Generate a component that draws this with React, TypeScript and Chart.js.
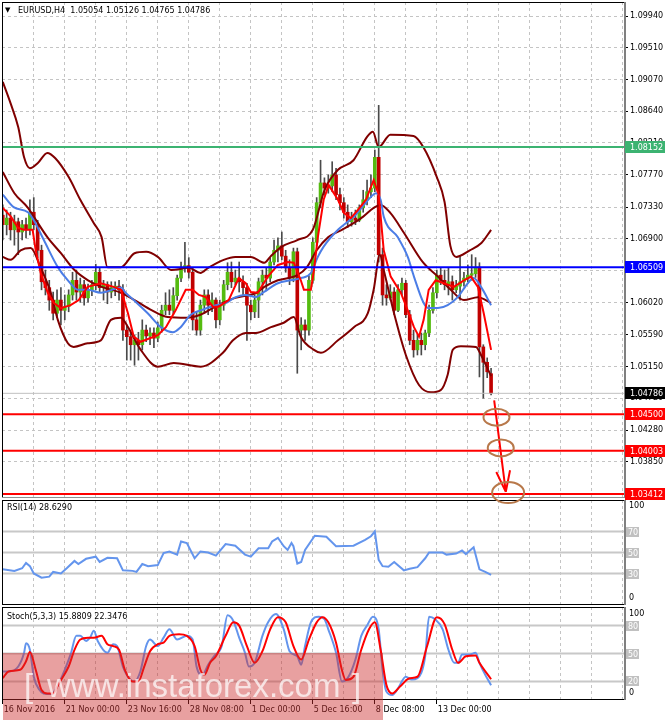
import React, { useEffect, useRef } from "react";
import { Chart, registerables } from "chart.js";

Chart.register(...registerables);
Chart.defaults.font.family = '"DejaVu Sans", sans-serif';

// ---------------- DATA ----------------
// EURUSD H4 candles (index 0 = 16 Nov 2016 08:00)
const barOpen = [
  1.0722, 1.0709, 1.0718, 1.0702, 1.0713, 1.0699, 1.0709, 1.0702, 1.0726, 1.0709,
  1.0674, 1.0631, 1.0623, 1.0606, 1.0588, 1.0606, 1.0592, 1.0597, 1.0613, 1.0633,
  1.0617, 1.0627, 1.0609, 1.0620, 1.0627, 1.0644, 1.0623, 1.0627, 1.0617, 1.0623,
  1.0625, 1.0620, 1.0565, 1.0556, 1.0545, 1.0551, 1.0545, 1.0565, 1.0557, 1.0561,
  1.0554, 1.0568, 1.0592, 1.0599, 1.0592, 1.0612, 1.0636, 1.0650, 1.0653, 1.0644,
  1.0579, 1.0565, 1.0599, 1.0613, 1.0599, 1.0606, 1.0579, 1.0599, 1.0627, 1.0644,
  1.0631, 1.0636, 1.0631, 1.0623, 1.0599, 1.0590, 1.0606, 1.0631, 1.0640, 1.0636,
  1.0658, 1.0674, 1.0680, 1.0666, 1.0650, 1.0636, 1.0672, 1.0565, 1.0572, 1.0565,
  1.0633, 1.0685, 1.0739, 1.0766, 1.0759, 1.0762, 1.0777, 1.0750, 1.0739, 1.0726,
  1.0713, 1.0718, 1.0715, 1.0732, 1.0743, 1.0754, 1.0759, 1.0801, 1.0668, 1.0613,
  1.0609, 1.0617, 1.0592, 1.0620, 1.0629, 1.0586, 1.0551, 1.0538, 1.0551, 1.0545,
  1.0561, 1.0592, 1.0616, 1.0640, 1.0633, 1.0627, 1.0631, 1.0620, 1.0625, 1.0631,
  1.0636, 1.0640, 1.0642, 1.0651, 1.0542, 1.0521, 1.05054,
];
const barHigh = [
  1.0736, 1.0729, 1.0726, 1.0722, 1.0718, 1.0715, 1.0718, 1.0743, 1.0746, 1.0715,
  1.0681, 1.0647, 1.0633, 1.0617, 1.0620, 1.0623, 1.0613, 1.0620, 1.0644, 1.0647,
  1.0636, 1.0633, 1.0628, 1.0633, 1.0655, 1.0650, 1.0633, 1.0631, 1.0631, 1.0631,
  1.0633, 1.0627, 1.0572, 1.0562, 1.0558, 1.0562, 1.0579, 1.0572, 1.0568, 1.0568,
  1.0576, 1.0599, 1.0616, 1.0620, 1.0623, 1.0640, 1.0658, 1.0685, 1.0664, 1.0650,
  1.0590, 1.0606, 1.0620, 1.0620, 1.0616, 1.0609, 1.0606, 1.0633, 1.0657, 1.0658,
  1.0647, 1.0658, 1.0639, 1.0629, 1.0606, 1.0613, 1.0636, 1.0647, 1.0650, 1.0664,
  1.0688, 1.0691, 1.0699, 1.0674, 1.0661, 1.0677, 1.0677, 1.0582, 1.0579, 1.0639,
  1.0691, 1.0746, 1.0797, 1.0773, 1.0777, 1.0795, 1.0786, 1.0759, 1.0746, 1.0736,
  1.0726, 1.0729, 1.0736, 1.0756, 1.0770, 1.0777, 1.0811, 1.0872, 1.0677, 1.0627,
  1.0627, 1.0623, 1.0627, 1.0636, 1.0633, 1.0592, 1.0565, 1.0558, 1.0561, 1.0565,
  1.0599, 1.0623, 1.0647, 1.0650, 1.0647, 1.0650, 1.0639, 1.0633, 1.0666, 1.0644,
  1.0654, 1.0668, 1.0664, 1.0657, 1.0545, 1.0527, 1.05126,
];
const barLow = [
  1.0688, 1.0695, 1.0688, 1.0681, 1.0668, 1.0688, 1.0691, 1.0695, 1.0702, 1.0664,
  1.0620, 1.0613, 1.0592, 1.0579, 1.0582, 1.0572, 1.0579, 1.0590, 1.0606, 1.0606,
  1.0603, 1.0599, 1.0603, 1.0612, 1.0620, 1.0617, 1.0606, 1.0601, 1.0609, 1.0612,
  1.0606, 1.0551, 1.0524, 1.0524, 1.0517, 1.0524, 1.0538, 1.0549, 1.0545, 1.0541,
  1.0549, 1.0562, 1.0586, 1.0586, 1.0586, 1.0606, 1.0631, 1.0644, 1.0636, 1.0565,
  1.0558, 1.0558, 1.0590, 1.0586, 1.0590, 1.0568, 1.0572, 1.0592, 1.0620, 1.0623,
  1.0627, 1.0617, 1.0613, 1.0551, 1.0579, 1.0582, 1.0582, 1.0613, 1.0620, 1.0631,
  1.0654, 1.0658, 1.0661, 1.0644, 1.0627, 1.0631, 1.0506, 1.0538, 1.0551, 1.0558,
  1.0629, 1.0680, 1.0732, 1.0750, 1.0752, 1.0754, 1.0743, 1.0729, 1.0718, 1.0705,
  1.0707, 1.0709, 1.0713, 1.0726, 1.0736, 1.0746, 1.0754, 1.0658, 1.0599, 1.0599,
  1.0606, 1.0586, 1.0590, 1.0613, 1.0582, 1.0545, 1.0528, 1.0531, 1.0531, 1.0538,
  1.0556, 1.0588, 1.0609, 1.0627, 1.0620, 1.0613, 1.0606, 1.0616, 1.0606, 1.0625,
  1.0631, 1.0633, 1.0637, 1.0501, 1.0472, 1.0500, 1.04765,
];
const barClose = [
  1.0709, 1.0718, 1.0702, 1.0713, 1.0699, 1.0709, 1.0702, 1.0726, 1.0709, 1.0674,
  1.0631, 1.0623, 1.0606, 1.0588, 1.0606, 1.0592, 1.0597, 1.0613, 1.0633, 1.0617,
  1.0627, 1.0609, 1.0620, 1.0627, 1.0644, 1.0623, 1.0627, 1.0617, 1.0623, 1.0625,
  1.0620, 1.0565, 1.0556, 1.0545, 1.0551, 1.0545, 1.0565, 1.0557, 1.0561, 1.0554,
  1.0568, 1.0592, 1.0599, 1.0592, 1.0612, 1.0636, 1.0650, 1.0653, 1.0644, 1.0579,
  1.0565, 1.0599, 1.0613, 1.0599, 1.0606, 1.0579, 1.0599, 1.0627, 1.0644, 1.0631,
  1.0636, 1.0631, 1.0623, 1.0599, 1.0590, 1.0606, 1.0631, 1.0640, 1.0636, 1.0658,
  1.0674, 1.0680, 1.0666, 1.0650, 1.0636, 1.0672, 1.0565, 1.0572, 1.0565, 1.0633,
  1.0685, 1.0739, 1.0766, 1.0759, 1.0762, 1.0777, 1.0750, 1.0739, 1.0726, 1.0713,
  1.0718, 1.0715, 1.0732, 1.0743, 1.0754, 1.0759, 1.0801, 1.0668, 1.0613, 1.0609,
  1.0617, 1.0592, 1.0620, 1.0629, 1.0586, 1.0551, 1.0538, 1.0551, 1.0545, 1.0561,
  1.0592, 1.0616, 1.0640, 1.0633, 1.0627, 1.0631, 1.0620, 1.0625, 1.0631, 1.0636,
  1.0640, 1.0642, 1.0651, 1.0542, 1.0521, 1.0508, 1.04786,
];

const dateLabels = [
  "16 Nov 2016", "21 Nov 00:00", "23 Nov 16:00", "28 Nov 08:00",
  "1 Dec 00:00", "5 Dec 16:00", "8 Dec 08:00", "13 Dec 00:00",
];
const barsPerDateLabel = 16;
const barsPerGridLine = 8;
const slotCount = 160;

const priceTicks = [
  1.0994, 1.0951, 1.0907, 1.0864, 1.0821, 1.0777, 1.0733, 1.069,
  1.0646, 1.0602, 1.0559, 1.0515, 1.0472, 1.0428, 1.0385,
];

// Bollinger bands [bar index, price]
const bbUpper = [
  [0, 1.0904], [2, 1.0875], [4, 1.0842], [5.5, 1.0801], [7, 1.0786], [9, 1.0793], [11.5, 1.0807],
  [13.5, 1.08], [17, 1.0774], [20, 1.0743], [23.5, 1.0711], [25.5, 1.0692], [27, 1.0651], [30.5, 1.0651],
  [34, 1.067], [37, 1.0672], [40, 1.0665], [43.5, 1.0647], [48, 1.065], [51, 1.0643], [53, 1.065],
  [57, 1.0661], [60, 1.0665], [64, 1.0665], [67.5, 1.0657], [69, 1.0665], [72, 1.0679], [76, 1.0688],
  [80, 1.0702], [83, 1.0756], [86.5, 1.0784], [90.5, 1.0797], [94, 1.0829], [95.5, 1.0836], [97, 1.0815],
  [100, 1.0832], [106, 1.083], [108.5, 1.0815], [112, 1.0774], [114, 1.074], [115.5, 1.068], [117, 1.0665],
  [120.5, 1.0674], [123.5, 1.0684], [126, 1.0702],
];
const bbMiddle = [
  [0, 1.0781], [3, 1.0752], [6.5, 1.0732], [8, 1.072], [11.5, 1.0692], [15, 1.067], [18.5, 1.0647],
  [22, 1.0633], [25.5, 1.0624], [30.5, 1.0616], [34, 1.0606], [38.5, 1.0592], [42.5, 1.0583], [47.5, 1.0582],
  [51, 1.0586], [55.5, 1.0599], [60, 1.0609], [65.5, 1.0616], [67.5, 1.0624], [71, 1.0633], [76, 1.064],
  [78.5, 1.0651], [81, 1.0674], [84, 1.0692], [87.5, 1.0702], [90.5, 1.0711], [93, 1.072], [95.7, 1.0732],
  [97.5, 1.0736], [100, 1.0725], [103.5, 1.0698], [108.5, 1.0657], [112.3, 1.0638], [115.6, 1.062],
  [119, 1.0606], [122.6, 1.061], [126, 1.0602],
];
const bbLower = [
  [0, 1.0665], [2, 1.0661], [4.6, 1.0674], [7.2, 1.0677], [9.8, 1.065], [12.4, 1.0616], [14.2, 1.0579],
  [16.8, 1.0547], [18.3, 1.0542], [21.9, 1.0547], [25.3, 1.0551], [27.9, 1.0579], [30.5, 1.0582],
  [32.3, 1.0569], [35.6, 1.0538], [40, 1.0515], [44.1, 1.052], [51.1, 1.0515], [56.8, 1.0534],
  [59.4, 1.0551], [62.7, 1.0561], [65.3, 1.0561], [69.2, 1.0569], [72.5, 1.0575], [75.1, 1.0583],
  [76.9, 1.0556], [80.3, 1.0538], [82.1, 1.0534], [86.5, 1.0551], [90.6, 1.0569], [94.2, 1.0588],
  [95.7, 1.062], [97.3, 1.0668], [98.3, 1.0647], [101.4, 1.0579], [104, 1.0531], [107.4, 1.049],
  [110.5, 1.048], [113, 1.0483], [114.8, 1.0504], [116.1, 1.0538], [118.2, 1.0543], [122.1, 1.0542],
  [123.4, 1.0531], [126, 1.0502],
];
// Moving averages [bar index, price]
const maSlow = [
  [0, 1.075], [2.8, 1.0733], [6.5, 1.0726], [8, 1.0715], [10.6, 1.0688], [14.2, 1.0651], [16.8, 1.0633],
  [19.4, 1.062], [21.9, 1.062], [25.3, 1.0616], [30.5, 1.0623], [31.7, 1.0616], [33.8, 1.0606],
  [37.4, 1.0588], [40.8, 1.0569], [43.9, 1.0562], [45.9, 1.0569], [48.5, 1.0586], [51.1, 1.0592],
  [55, 1.0599], [57.5, 1.0602], [60.1, 1.061], [62.7, 1.0613], [65.3, 1.061], [67.4, 1.0617],
  [71, 1.0629], [74.3, 1.0633], [76.9, 1.0636], [79.5, 1.0643], [81.3, 1.0665], [82.8, 1.0679],
  [86.5, 1.0702], [89, 1.0713], [90.6, 1.072], [93.2, 1.0736], [95, 1.0747], [96.3, 1.0752],
  [97.5, 1.0743], [98.3, 1.072], [101.9, 1.0692], [104.5, 1.0665], [106.1, 1.0638], [108.6, 1.0602],
  [109.9, 1.0595], [112.3, 1.0595], [114.8, 1.0599], [117.4, 1.061], [120, 1.0629], [121.5, 1.0636],
  [123.4, 1.0624], [126, 1.0599],
];
const maFast = [
  [0, 1.0732], [2.1, 1.072], [3.9, 1.0705], [5.4, 1.0702], [7.7, 1.0702], [8.5, 1.0674], [9.8, 1.0643],
  [11.6, 1.0616], [13.2, 1.0602], [15, 1.0595], [17.5, 1.0599], [19.6, 1.0606], [21.9, 1.0624],
  [25.3, 1.0629], [28.6, 1.0624], [30.5, 1.062], [32.3, 1.0588], [33.8, 1.0556], [35.6, 1.0549],
  [40, 1.0558], [42.1, 1.0569], [44.6, 1.0592], [47.2, 1.062], [49, 1.062], [50.6, 1.0613],
  [52.4, 1.061], [54.2, 1.0597], [55.7, 1.0597], [58.3, 1.0606], [60.9, 1.0636], [62.7, 1.0629],
  [64, 1.0617], [65.8, 1.0616], [68.4, 1.0638], [71, 1.0654], [73.5, 1.0658], [75.1, 1.0657],
  [76.9, 1.0633], [77.7, 1.062], [79.5, 1.062], [80.3, 1.0647], [81.3, 1.0692], [82.8, 1.0743],
  [84.1, 1.0763], [86.5, 1.0743], [88, 1.0725], [89.8, 1.0718], [91.6, 1.0729], [93.7, 1.0743],
  [95.7, 1.077], [97, 1.075], [98.3, 1.0674], [100.1, 1.0638], [102.7, 1.0616], [104.5, 1.0592],
  [106.1, 1.0569], [107.4, 1.0556], [108.6, 1.0579], [109.9, 1.062], [111.7, 1.0633], [113.8, 1.0629],
  [116.4, 1.0624], [119, 1.0633], [120.8, 1.0638], [122.6, 1.0624], [124.1, 1.0588], [126, 1.0538],
];

// Horizontal levels
const resistanceLevel = 1.08152;
const pivotLevel = 1.06509;
const targetLevels = [1.045, 1.04003, 1.03412];
const bidPrice = 1.04786;

// Hand-drawn marks: target circles and arrow [bar index, price]
const targetMarks = [[127.4, 1.0446], [128.5, 1.0404], [130.4, 1.0343]];
const arrowPath = [[126.8, 1.0469], [129.8, 1.0344]];

// RSI(14) [bar index, value]
const rsiPoints = [
  [0, 34], [3, 32.5], [5, 35], [6, 40], [7, 37], [8, 30], [10, 26], [12, 27], [13, 31.5], [15, 30],
  [16.5, 35], [18.5, 42], [19.5, 39], [21.5, 44], [24, 46], [25, 41], [27, 45], [29.5, 44.5], [31, 33],
  [33.5, 32.5], [34.5, 31.5], [36, 39], [37.5, 37], [40, 38], [41.5, 49.5], [43, 51], [45, 48],
  [46, 60.5], [47.5, 59], [49.5, 44.5], [51, 51], [53, 50], [55, 47], [57.5, 58], [60, 56.5],
  [62.5, 48], [64, 46], [66, 54], [68.5, 54], [69.5, 60.5], [71, 64], [72.5, 56], [73.5, 52.5],
  [74.5, 59], [75, 56], [76, 39.5], [77, 41], [78, 52.5], [80.5, 66], [83.5, 65], [86, 56],
  [90.5, 56.5], [93.5, 62], [95, 65.5], [96, 70], [97, 43], [98, 37], [99.5, 36.5], [101, 41],
  [103.5, 33], [105, 34.5], [107, 36], [109, 44.5], [110, 50], [113.5, 50], [114.5, 48], [117, 49],
  [118.5, 52], [119.5, 48.5], [121.5, 55], [123, 34], [124.5, 31.5], [126, 28.629],
];
const rsiLevels = [70, 50, 30];

// Stochastic(5,3,3) [bar index, value]
const stochK = [
  [0, 30.7], [1.5, 30.7], [4, 36], [5.5, 50.7], [6, 61], [7, 54], [8, 25], [9.5, 10.7], [10.5, 7],
  [12.5, 6.4], [14, 14], [16, 32.5], [17.5, 49], [19, 69], [20, 69], [21.5, 63.5], [22.5, 67],
  [23.5, 74.4], [24.5, 63.5], [27, 50.7], [28.5, 60], [29.5, 58], [31, 36], [33, 21.6], [34, 20],
  [35.5, 30.7], [37, 58], [38, 65], [40, 58], [41.5, 67], [43, 76], [45, 65], [47.5, 69], [49, 65],
  [50, 36], [51.5, 27], [53, 38], [54.5, 47], [56.5, 58], [58, 91], [59.5, 85], [61, 67], [62.5, 50.7],
  [63.5, 36], [65, 40], [67, 69], [68.5, 84], [70.5, 92.5], [72.5, 76], [74, 52.5], [76, 47], [77, 38],
  [78, 58], [79.5, 83.5], [81.5, 89.6], [83, 87], [84, 76], [86, 50.7], [87.5, 20], [89, 23.5],
  [91, 43.5], [92.5, 69], [94, 80], [95.5, 89.6], [97, 76], [98, 32.5], [99, 9], [100.5, 5.3],
  [102, 12.5], [104, 25], [105.5, 22], [107, 23.5], [109, 47], [110, 89.6], [111.5, 87], [113.5, 76],
  [115, 54], [116.5, 40], [117.5, 40], [118.5, 49], [120.5, 49], [122, 50.7], [123, 40], [124.5, 27],
  [126, 15.8809],
];
const stochD = [
  [0, 23.5], [1.5, 30.7], [4.5, 32.5], [6, 41.6], [7, 51.5], [8.5, 32.5], [10, 10.7], [11.5, 7], [13, 7],
  [14.5, 18], [17, 36], [18.5, 54], [20, 65], [22, 67], [23.5, 67], [25.5, 69], [27, 60], [28.5, 58],
  [30, 54], [31.5, 32.5], [33.5, 20], [35, 20], [36.5, 36], [38, 52.5], [40, 60], [41.5, 61.6], [43, 69],
  [45.5, 70.7], [47.5, 69], [49.5, 58], [51, 32.5], [52, 27], [53.5, 40], [55, 47], [57.5, 69],
  [59.5, 83.5], [61, 80], [63, 58], [65, 40], [67, 52.5], [69, 76], [71, 89], [73, 83.5], [75, 58],
  [77, 43.5], [79, 65], [81, 83.5], [82.5, 89], [84, 83.5], [86, 61.6], [87.5, 32.5], [88.5, 21.6],
  [90.5, 25], [92.5, 54], [94.5, 76], [96, 83.5], [97.5, 54], [99, 16], [100.5, 7], [102.5, 14.4],
  [105, 23.5], [107, 25], [109.5, 58], [112, 89], [114, 81.6], [116, 54], [117.5, 40], [119.5, 47],
  [122, 47.8], [123, 40], [126, 22.3476],
];
const stochLevels = [80, 50, 20];

// ---------------- STYLE / LAYOUT ----------------
const W = 665;
const AXIS_W = 41;
const X_MIN = -0.2;
const X_MAX = 160.3;
const PRICE_MIN = 1.03356;
const PRICE_MAX = 1.10132;
const FONT = '"DejaVu Sans", sans-serif';
const GRID = "#c4c4c4";
const BULL = "#55bb10";
const BEAR = "#c00000";
const WICK = "#4a4a4a";
const BAND = "#800000";
const MA_BLUE = "rgb(75,125,230)";
const IND_BLUE = "#6495ed";
const RED = "#ff0000";
const CIRCLE = "#b8784a";
const ellipseSizes = [[13, 8.5], [13, 8.5], [16, 10.5]];

const gridTicks: number[] = [];
for (let v = 0; v <= slotCount; v += barsPerGridLine) gridTicks.push(v);

const dateLabelFor = (v: number) => {
  if (v % barsPerDateLabel !== 0) return "";
  const k = v / barsPerDateLabel;
  return k < dateLabels.length ? dateLabels[k] : "";
};

const toPts = (arr: number[][]) => arr.map(([x, y]) => ({ x, y }));

function lineSet(arr: number[][], color: string, width: number, order: number, smooth: boolean) {
  return {
    type: "line",
    data: toPts(arr),
    borderColor: color,
    borderWidth: width,
    pointRadius: 0,
    fill: false,
    tension: 0,
    cubicInterpolationMode: smooth ? "monotone" : "default",
    order,
  };
}

function xAxis(showLabels: boolean, height: number) {
  return {
    type: "linear",
    min: X_MIN,
    max: X_MAX,
    offset: false,
    grid: {
      display: true,
      color: GRID,
      lineWidth: 1,
      offset: false,
      drawTicks: showLabels,
      tickLength: 4,
      tickBorderDash: [],
      tickColor: (c: any) =>
        showLabels && c.tick && dateLabelFor(c.tick.value) !== "" ? "#000" : "rgba(0,0,0,0)",
    },
    border: { display: false, dash: [3, 3] },
    ticks: {
      display: showLabels,
      autoSkip: false,
      maxRotation: 0,
      minRotation: 0,
      align: "start",
      padding: 1,
      labelOffset: 1,
      color: "#000",
      font: { family: FONT, size: 8 },
      callback: (v: any) => dateLabelFor(Number(v)),
    },
    afterBuildTicks: (s: any) => {
      s.ticks = gridTicks.map((v) => ({ value: v }));
    },
    afterFit: (s: any) => {
      s.height = height;
      s.paddingLeft = 0;
      s.paddingRight = 0;
    },
  };
}

const indicatorY = {
  position: "right",
  min: 0,
  max: 100,
  beginAtZero: false,
  grid: { display: false },
  border: { display: false },
  ticks: { display: false },
  afterFit: (s: any) => {
    s.width = AXIS_W;
    s.paddingTop = 0;
    s.paddingBottom = 0;
  },
};

function drawFrame(chart: any, bottomColor: string) {
  const { ctx } = chart;
  const { left, right, top, bottom } = chart.chartArea;
  ctx.save();
  ctx.lineWidth = 1;
  ctx.strokeStyle = "#000";
  ctx.beginPath();
  ctx.moveTo(left + 0.5, top + 0.5);
  ctx.lineTo(right, top + 0.5);
  ctx.moveTo(left + 0.5, top);
  ctx.lineTo(left + 0.5, bottom);
  ctx.stroke();
  ctx.strokeStyle = bottomColor;
  ctx.beginPath();
  ctx.moveTo(left, bottom - 0.5);
  ctx.lineTo(right, bottom - 0.5);
  ctx.stroke();
  ctx.strokeStyle = "#808080";
  ctx.lineWidth = 2;
  ctx.beginPath();
  ctx.moveTo(right + 1, top);
  ctx.lineTo(right + 1, bottom);
  ctx.stroke();
  ctx.restore();
}

function hLine(chart: any, value: number, color: string, width: number) {
  const { ctx } = chart;
  const { left, right } = chart.chartArea;
  const y = chart.scales.y.getPixelForValue(value);
  ctx.save();
  ctx.strokeStyle = color;
  ctx.lineWidth = width;
  ctx.beginPath();
  ctx.moveTo(left, y);
  ctx.lineTo(right, y);
  ctx.stroke();
  ctx.restore();
}

function priceBox(chart: any, value: number, bg: string) {
  const { ctx } = chart;
  const x0 = chart.chartArea.right + 1;
  const y = Math.round(chart.scales.y.getPixelForValue(value));
  ctx.save();
  ctx.fillStyle = bg;
  ctx.fillRect(x0, y - 6, W - x0, 12);
  ctx.fillStyle = "#fff";
  ctx.font = `8px ${FONT}`;
  ctx.textBaseline = "middle";
  ctx.textAlign = "left";
  ctx.fillText(value.toFixed(5), x0 + 5, y + 0.5);
  ctx.restore();
}

function indicatorLabels(chart: any, levels: number[], topOff: number, botOff: number) {
  const { ctx } = chart;
  const ys = chart.scales.y;
  const x0 = chart.chartArea.right + 2;
  ctx.save();
  ctx.font = `8px ${FONT}`;
  ctx.textBaseline = "middle";
  ctx.textAlign = "left";
  ctx.fillStyle = "#000";
  ctx.fillText("100", x0 + 3, ys.getPixelForValue(100) + topOff);
  ctx.fillText("0", x0 + 3, ys.getPixelForValue(0) - botOff);
  levels.forEach((lv) => {
    const y = Math.round(ys.getPixelForValue(lv));
    ctx.fillStyle = "#c0c0c0";
    ctx.fillRect(x0, y - 5, 13, 10);
    ctx.fillStyle = "#fff";
    ctx.fillText(String(lv), x0 + 2, y + 0.5);
  });
  ctx.restore();
}

function levelLines(chart: any, levels: number[]) {
  levels.forEach((lv) => hLine(chart, lv, "#c8c8c8", 2));
}

function panelTitle(chart: any, text: string, y: number) {
  const { ctx } = chart;
  ctx.save();
  ctx.font = `8px ${FONT}`;
  ctx.fillStyle = "#000";
  ctx.textBaseline = "middle";
  ctx.textAlign = "left";
  ctx.fillText(text, 7, y);
  ctx.restore();
}

function mainConfig(): any {
  const n = barClose.length;
  const bodies = barOpen.map((o, i) => ({ x: i, y: [o, barClose[i]] }));
  const wicks = barLow.map((l, i) => ({ x: i, y: [l, barHigh[i]] }));
  const bodyColors = barOpen.map((o, i) => (barClose[i] >= o ? BULL : BEAR));
  const header = `EURUSD,H4  ${barOpen[n - 1].toFixed(5)} ${barHigh[n - 1].toFixed(5)} ${barLow[n - 1].toFixed(5)} ${barClose[n - 1].toFixed(5)}`;

  const deco = {
    id: "mainDeco",
    afterDatasetsDraw(chart: any) {
      hLine(chart, bidPrice, "#c0c0c0", 1);
      hLine(chart, resistanceLevel, "#3cb371", 2);
      hLine(chart, pivotLevel, "#0000ff", 2);
      targetLevels.forEach((lv) => hLine(chart, lv, RED, 2));
    },
    afterDraw(chart: any) {
      const { ctx } = chart;
      drawFrame(chart, "#909090");
      priceBox(chart, resistanceLevel, "#3cb371");
      priceBox(chart, pivotLevel, "#0000ff");
      priceBox(chart, bidPrice, "#000000");
      targetLevels.forEach((lv) => priceBox(chart, lv, RED));

      // header
      ctx.save();
      ctx.fillStyle = "#000";
      ctx.textBaseline = "middle";
      ctx.font = `7px ${FONT}`;
      ctx.fillText("\u25BC", 5, 10.5);
      ctx.font = `8px ${FONT}`;
      ctx.fillText(header, 18, 10.5);
      ctx.restore();

      // annotations
      const xs = chart.scales.x;
      const ys = chart.scales.y;
      ctx.save();
      ctx.strokeStyle = RED;
      ctx.lineWidth = 2;
      const x0 = xs.getPixelForValue(arrowPath[0][0]);
      const y0 = ys.getPixelForValue(arrowPath[0][1]);
      const x1 = xs.getPixelForValue(arrowPath[1][0]);
      const y1 = ys.getPixelForValue(arrowPath[1][1]);
      ctx.beginPath();
      ctx.moveTo(x0, y0);
      ctx.lineTo(x1, y1);
      const ang = Math.atan2(y1 - y0, x1 - x0);
      [-1, 1].forEach((s) => {
        const a = ang + Math.PI + s * 0.32;
        ctx.moveTo(x1, y1);
        ctx.lineTo(x1 + 22 * Math.cos(a), y1 + 22 * Math.sin(a));
      });
      ctx.stroke();
      ctx.strokeStyle = CIRCLE;
      ctx.lineWidth = 2;
      targetMarks.forEach(([ix, p], k) => {
        const cx = xs.getPixelForValue(ix);
        const cy = ys.getPixelForValue(p);
        ctx.beginPath();
        ctx.ellipse(cx, cy, ellipseSizes[k][0], ellipseSizes[k][1], 0, 0, Math.PI * 2);
        ctx.stroke();
      });
      ctx.restore();
    },
  };

  return {
    type: "bar",
    data: {
      datasets: [
        lineSet(bbUpper, BAND, 2, 3, true),
        lineSet(bbMiddle, BAND, 2, 3, true),
        lineSet(bbLower, BAND, 2, 3, true),
        lineSet(maSlow, MA_BLUE, 2, 2, true),
        lineSet(maFast, RED, 2, 1, false),
        {
          type: "bar",
          data: bodies,
          backgroundColor: bodyColors,
          borderWidth: 0,
          barThickness: 3,
          maxBarThickness: 3,
          grouped: false,
          order: 5,
        },
        {
          type: "bar",
          data: wicks,
          backgroundColor: WICK,
          borderWidth: 0,
          barThickness: 1,
          maxBarThickness: 1,
          grouped: false,
          order: 6,
        },
      ],
    },
    options: {
      responsive: false,
      animation: false,
      events: [],
      layout: { padding: { left: 2, top: 2, right: 0, bottom: 12 } },
      plugins: { legend: { display: false }, tooltip: { enabled: false } },
      scales: {
        x: xAxis(false, 0),
        y: {
          position: "right",
          min: PRICE_MIN,
          max: PRICE_MAX,
          beginAtZero: false,
          grid: {
            color: GRID,
            lineWidth: 1,
            drawTicks: true,
            tickLength: 4,
            tickColor: "#000",
            tickBorderDash: [],
          },
          border: { display: false, dash: [3, 3] },
          ticks: {
            color: "#000",
            padding: 2,
            font: { family: FONT, size: 8 },
            callback: (v: any) => Number(v).toFixed(5),
          },
          afterBuildTicks: (s: any) => {
            s.ticks = priceTicks.map((v) => ({ value: v }));
          },
          afterFit: (s: any) => {
            s.width = AXIS_W;
            s.paddingTop = 0;
            s.paddingBottom = 0;
          },
        },
      },
    },
    plugins: [deco],
  };
}

function rsiConfig(): any {
  const deco = {
    id: "rsiDeco",
    beforeDatasetsDraw(chart: any) {
      levelLines(chart, rsiLevels);
    },
    afterDraw(chart: any) {
      drawFrame(chart, "#000");
      indicatorLabels(chart, rsiLevels, 6, 7);
      const last = rsiPoints[rsiPoints.length - 1][1];
      panelTitle(chart, `RSI(14) ${last.toFixed(4)}`, 8.5);
    },
  };
  return {
    type: "line",
    data: { datasets: [lineSet(rsiPoints, IND_BLUE, 2, 0, false)] },
    options: {
      responsive: false,
      animation: false,
      events: [],
      layout: { padding: { left: 2, top: 1, right: 0, bottom: 1 } },
      plugins: { legend: { display: false }, tooltip: { enabled: false } },
      scales: { x: xAxis(false, 0), y: indicatorY },
    },
    plugins: [deco],
  };
}

function stochConfig(): any {
  const deco = {
    id: "stochDeco",
    beforeDatasetsDraw(chart: any) {
      levelLines(chart, stochLevels);
    },
    afterDraw(chart: any) {
      const { ctx } = chart;
      drawFrame(chart, "#000");
      indicatorLabels(chart, stochLevels, 7, 7);
      const k = stochK[stochK.length - 1][1];
      const d = stochD[stochD.length - 1][1];
      panelTitle(chart, `Stoch(5,3,3) ${k.toFixed(4)} ${d.toFixed(4)}`, 10.5);

      // watermark
      ctx.save();
      ctx.fillStyle = "rgba(205,45,45,0.45)";
      ctx.fillRect(3, 47, 380, 67);
      ctx.fillStyle = "rgba(255,255,255,0.72)";
      ctx.font = `33px "Liberation Sans", Arial, sans-serif`;
      ctx.textBaseline = "alphabetic";
      ctx.textAlign = "left";
      ctx.fillText("[", 24, 91);
      ctx.fillText("www.instaforex.com", 47, 91);
      ctx.fillText("]", 352, 91);
      ctx.restore();
    },
  };
  return {
    type: "line",
    data: {
      datasets: [
        lineSet(stochD, RED, 2, 0, true),
        lineSet(stochK, IND_BLUE, 2, 1, true),
      ],
    },
    options: {
      responsive: false,
      animation: false,
      events: [],
      layout: { padding: { left: 2, top: 1, right: 0, bottom: 0 } },
      plugins: { legend: { display: false }, tooltip: { enabled: false } },
      scales: { x: xAxis(true, 20), y: indicatorY },
    },
    plugins: [deco],
  };
}

export default function App() {
  const mainRef = useRef<HTMLCanvasElement>(null);
  const rsiRef = useRef<HTMLCanvasElement>(null);
  const stochRef = useRef<HTMLCanvasElement>(null);

  useEffect(() => {
    const charts = [
      new Chart(stochRef.current as HTMLCanvasElement, stochConfig()),
      new Chart(rsiRef.current as HTMLCanvasElement, rsiConfig()),
      new Chart(mainRef.current as HTMLCanvasElement, mainConfig()),
    ];
    return () => charts.forEach((c) => c.destroy());
  }, []);

  const abs = (top: number, h: number): React.CSSProperties => ({
    position: "absolute",
    left: 0,
    top,
    width: W,
    height: h,
  });

  return (
    <div
      style={{
        position: "fixed",
        left: 0,
        top: 0,
        width: W,
        height: 720,
        background: "#fff",
        overflow: "hidden",
      }}
    >
      <canvas ref={stochRef} width={W} height={114} style={abs(606, 114)} />
      <canvas ref={rsiRef} width={W} height={107} style={abs(499, 107)} />
      <canvas ref={mainRef} width={W} height={510} style={abs(0, 510)} />
    </div>
  );
}
